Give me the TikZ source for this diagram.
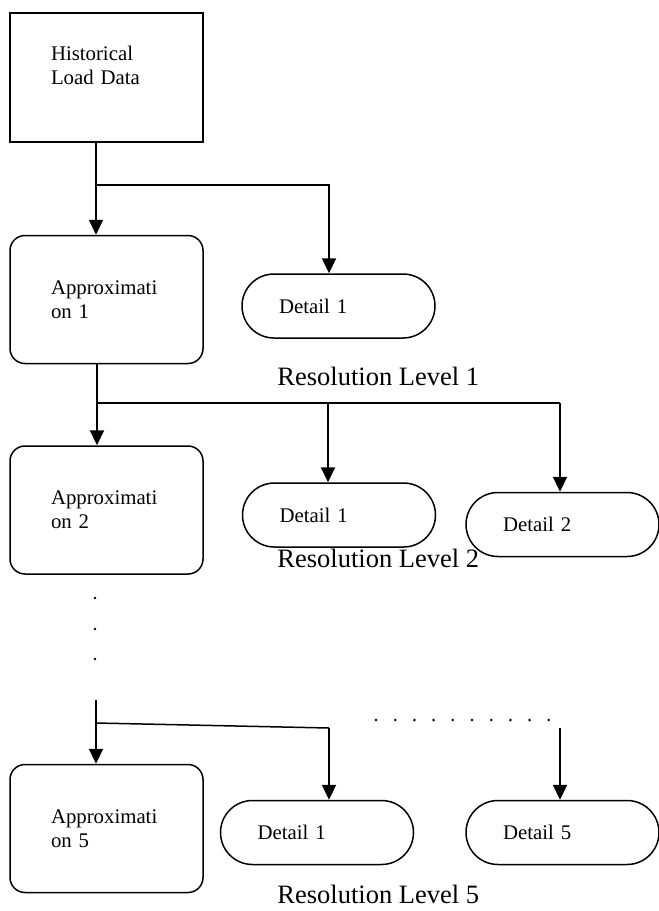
\documentclass[tikz,border=0pt]{standalone}
\usepackage{fontspec}
\setmainfont{Liberation Serif}
\usepackage{tikz}
\usetikzlibrary{shapes.geometric, arrows.meta}
\tikzstyle{store} = [rectangle, minimum width=96.5pt, minimum height=64.5pt, text width=55.5pt, align=left, draw=black, line width=0.75pt, font=\fontsize{10.4}{12}\selectfont]
\tikzstyle{approx} = [store, minimum height=64pt, rounded corners=7.5pt]
\tikzstyle{detail} = [rectangle, rounded corners=16pt, minimum width=96.5pt, minimum height=32pt, text width=59.5pt, align=left, draw=black, line width=0.75pt, font=\fontsize{10.4}{12}\selectfont]
\tikzstyle{level} = [anchor=base west, inner sep=0pt, font=\fontsize{13.25}{15}\selectfont]
\tikzstyle{arrow} = [line width=1.1pt, -{Triangle[width=7pt,length=7.5pt]}]
\tikzstyle{link} = [line width=0.75pt]

\begin{document}
\begin{tikzpicture}[x=0.5pt, y=-0.5pt]
   \useasboundingbox (0,0) rectangle (659,911);
   \node (data) [store] at (106.5,77.5) {Historical\\Load Data\\\mbox{}};
   \node (a1) [approx] at (106.5,299.5) {Approximati\\on 1};
   \node (d11) [detail] at (338.5,306) {Detail 1};
   \node (res1) [level] at (277,385) {Resolution Level 1};
   \node (a2) [approx] at (106.5,510) {Approximati\\on 2};
   \node (d21) [detail] at (339,515) {Detail 1};
   \node (d22) [detail] at (562.5,524.5) {Detail 2};
   \node (res2) [level] at (277,567) {Resolution Level 2};
   \node (a5) [approx] at (106.5,828.5) {Approximati\\on 5};
   \node (d51) [detail] at (317,832.5) {Detail 1};
   \node (d55) [detail] at (562.5,832.5) {Detail 5};
   \node (res5) [level] at (277,903) {Resolution Level 5};
   % level 1
   \coordinate (j1) at (96,185);
   \coordinate (t11) at (329,185);
   \draw [arrow] (data.south -| j1) -- (a1.north -| j1);
   \draw [arrow] (j1) -- (t11) -- (t11 |- d11.north);
   % level 2
   \coordinate (j2) at (97,403);
   \coordinate (t21) at (328,403);
   \coordinate (t22) at (560,403);
   \draw [arrow] (a1.south -| j2) -- (a2.north -| j2);
   \draw [link] (j2) -- (t22);
   \draw [arrow] (t21) -- (t21 |- d21.north);
   \draw [arrow] (t22) -- (t22 |- d22.north);
   % dots
   \foreach \y in {598,629,659}
      \fill (95,\y) circle (0.7pt);
   \foreach \i in {0,...,9}
      \fill ({376+\i*19.2},720) circle (0.7pt);
   % level 5
   \coordinate (s5) at (96,700);
   \coordinate (j5) at (96,723);
   \coordinate (t51) at (329,728);
   \coordinate (t55) at (560,728);
   \draw [arrow] (s5) -- (a5.north -| s5);
   \draw [link] (j5) -- (t51);
   \draw [arrow] (t51) -- (t51 |- d51.north);
   \draw [arrow] (t55) -- (t55 |- d55.north);
\end{tikzpicture}
\end{document}
